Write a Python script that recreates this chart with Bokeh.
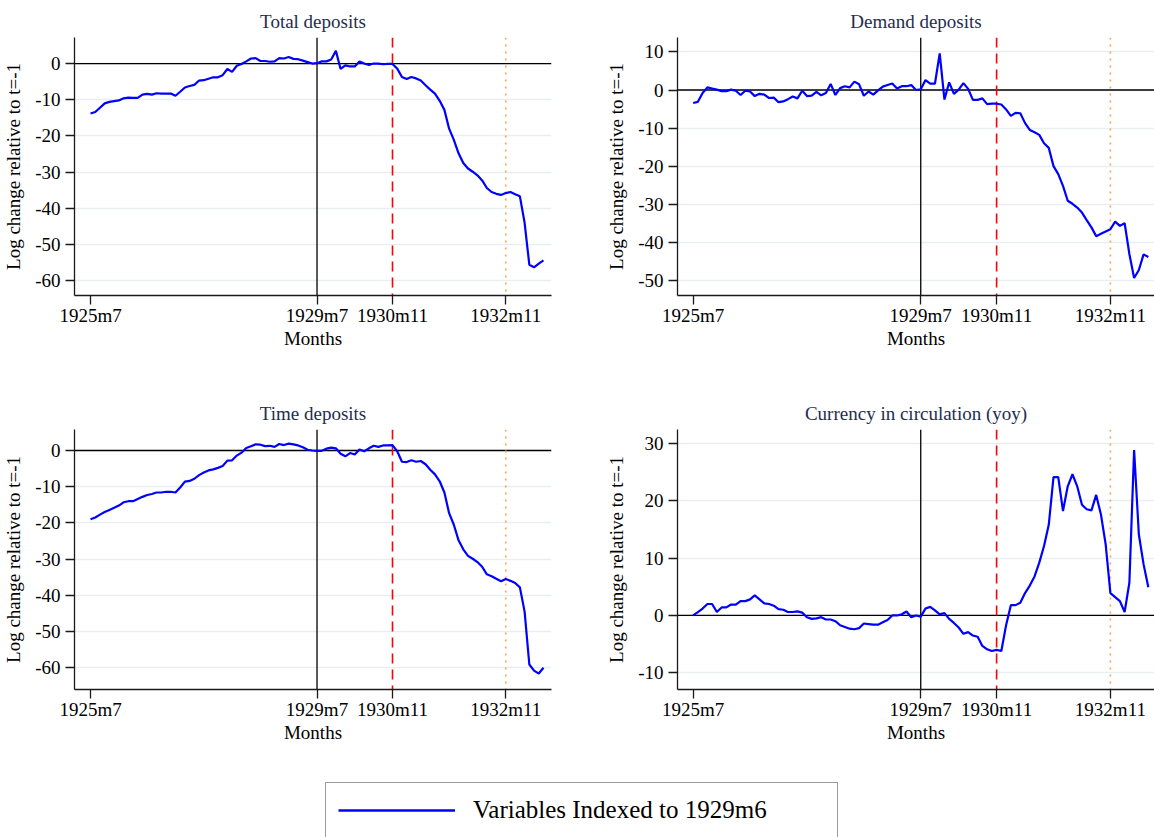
from bokeh.plotting import figure
from bokeh.layouts import column, row
from bokeh.models import FixedTicker, Span, Range1d, Legend, LegendItem
from bokeh.embed import file_html
from bokeh.resources import INLINE

# ---------------- data ----------------
start_year, start_month, n_months = 1925, 7, 97
months = [f"{start_year + (start_month - 1 + i) // 12}m{(start_month - 1 + i) % 12 + 1}" for i in range(n_months)]

tick_labels = ["1925m7", "1929m7", "1930m11", "1932m11"]
base_month = "1929m7"
crisis_month = "1930m11"
end_month = "1932m11"

total_deposits = [-13.8, -13.4, -12.2, -11.0, -10.6, -10.4, -10.2, -9.6, -9.4, -9.5, -9.5, -8.6, -8.4, -8.6, -8.2, -8.3,
                  -8.3, -8.3, -8.9, -7.8, -6.6, -6.2, -5.9, -4.7, -4.6, -4.2, -3.8, -3.8, -3.2, -1.5, -2.3, -0.6,
                  -0.1, 0.6, 1.4, 1.5, 0.7, 0.7, 0.5, 0.6, 1.5, 1.4, 1.8, 1.3, 1.2, 0.8, 0.4, 0.0, 0.1,
                  0.6, 0.6, 1.1, 3.5, -1.5, -0.5, -0.8, -0.8, 0.6, 0.0, -0.4, 0.0, 0.0, -0.2, -0.1, -0.1,
                  -1.4, -3.7, -4.3, -3.7, -4.1, -4.7, -6.0, -7.2, -8.3, -10.3, -12.8, -18.0, -21.1, -24.8, -27.5,
                  -29.0, -29.9, -30.9, -32.3, -34.4, -35.5, -36.0, -36.3, -35.8, -35.5, -36.1, -36.7, -44.0,
                  -55.6, -56.3, -55.3, -54.4]

demand_deposits = [-3.4, -3.1, -0.8, 0.7, 0.4, 0.1, -0.3, -0.3, 0.1, -0.2, -1.3, -0.2, -0.4, -1.6, -1.0, -1.2,
                   -2.1, -2.0, -3.2, -3.0, -2.4, -1.7, -2.2, -0.2, -1.6, -1.5, -0.5, -1.4, -0.8, 1.6, -1.3, 0.5,
                   1.0, 0.7, 2.2, 1.5, -1.5, -0.4, -1.2, -0.1, 0.9, 1.3, 1.7, 0.4, 1.0, 1.0, 1.3, 0.0, 0.2,
                   2.6, 1.7, 1.7, 9.6, -2.5, 2.0, -1.0, 0.1, 1.8, 0.3, -2.6, -2.6, -2.2, -3.7, -3.6, -3.6,
                   -3.8, -5.1, -6.8, -6.0, -6.1, -8.7, -10.5, -11.1, -11.8, -14.0, -15.2, -20.0, -22.1, -25.2,
                   -29.1, -29.9, -30.9, -32.2, -34.2, -36.1, -38.4, -37.8, -37.2, -36.6, -34.6, -35.7, -35.0,
                   -43.1, -49.4, -47.3, -43.2, -43.9]

time_deposits = [-19.0, -18.5, -17.7, -17.0, -16.4, -15.8, -15.2, -14.3, -14.0, -14.0, -13.4, -12.8, -12.3, -12.0,
                 -11.6, -11.6, -11.4, -11.4, -11.6, -10.2, -8.6, -8.4, -7.8, -6.8, -6.1, -5.5, -5.2, -4.8, -4.3,
                 -2.8, -2.7, -1.4, -0.6, 0.7, 1.2, 1.7, 1.6, 1.2, 1.3, 1.0, 1.8, 1.5, 1.9, 1.7, 1.4, 0.9, 0.2,
                 0.0, -0.1, -0.1, 0.5, 0.8, 0.6, -0.9, -1.6, -0.7, -1.1, 0.3, -0.2, 0.6, 1.3, 1.0, 1.4, 1.4, 1.5,
                 -0.2, -3.1, -3.2, -2.7, -3.1, -2.9, -3.8, -5.3, -6.6, -8.5, -11.6, -17.3, -20.5, -24.8, -27.3,
                 -29.1, -29.9, -30.8, -32.1, -34.2, -34.7, -35.4, -36.1, -35.5, -36.0, -36.6, -37.8, -44.5,
                 -59.1, -60.8, -61.6, -60.0]

currency = [0.0, 0.6, 1.2, 2.0, 2.0, 0.6, 1.4, 1.4, 1.9, 1.9, 2.5, 2.5, 2.8, 3.5, 2.8, 2.1, 2.0, 1.7, 1.1, 1.0,
            0.6, 0.6, 0.7, 0.5, -0.3, -0.6, -0.5, -0.3, -0.7, -0.7, -1.0, -1.7, -2.0, -2.3, -2.4, -2.2, -1.4,
            -1.5, -1.6, -1.6, -1.2, -0.8, 0.0, 0.0, 0.2, 0.7, -0.3, 0.0, -0.2,
            1.2, 1.5, 0.9, 0.2, 0.4, -0.6, -1.3, -2.1, -3.2, -2.9, -3.5, -3.7, -5.3, -5.9, -6.2, -6.0, -6.2,
            -1.7, 1.8, 1.8, 2.2, 3.9, 5.2, 6.8, 9.2, 12.1, 15.8, 24.1, 24.1, 18.2, 22.5, 24.6, 22.5, 19.3,
            18.5, 18.3, 21.0, 17.6, 12.4, 3.9, 3.2, 2.5, 0.6, 5.7, 28.8, 14.1, 8.9, 4.9]

titles = ["Total deposits", "Demand deposits", "Time deposits", "Currency in circulation (yoy)"]
y_ticks_total = [-60, -50, -40, -30, -20, -10, 0]
y_ticks_demand = [-50, -40, -30, -20, -10, 0, 10]
y_ticks_time = [-60, -50, -40, -30, -20, -10, 0]
y_ticks_currency = [-10, 0, 10, 20, 30]

legend_label = "Variables Indexed to 1929m6"
y_axis_label = "Log change relative to t=-1"
x_axis_label = "Months"

# ---------------- styling ----------------
FONT = "Liberation Serif"
FS = "19px"
TITLE_COLOR = "#1f2d4e"
LINE_BLUE = "#0000ff"


def make_panel(title, values, yticks, yrange, xrange, width, height, bl, br, bt, bb, title_offset):
    p = figure(width=width, height=height, output_backend="svg", toolbar_location=None,
               x_range=Range1d(*xrange), y_range=Range1d(*yrange),
               min_border_left=bl, min_border_right=br, min_border_top=bt, min_border_bottom=bb)
    p.outline_line_color = None
    p.background_fill_color = "white"
    p.border_fill_color = "white"

    p.title.text = title
    p.title.align = "center"
    p.title.text_font = FONT
    p.title.text_font_size = FS
    p.title.text_font_style = "normal"
    p.title.text_color = TITLE_COLOR
    p.title.offset = title_offset
    p.title.standoff = 12

    xs = list(range(len(values)))
    tick_pos = [months.index(t) for t in tick_labels]
    p.xaxis.ticker = FixedTicker(ticks=tick_pos)
    p.xaxis.major_label_overrides = {pos: lbl for pos, lbl in zip(tick_pos, tick_labels)}
    p.yaxis.ticker = FixedTicker(ticks=yticks)
    p.yaxis.major_label_overrides = {v: str(v) for v in yticks}

    for ax in (p.xaxis[0], p.yaxis[0]):
        ax.axis_line_color = "#1a1a1a"
        ax.axis_line_width = 1.3
        ax.major_tick_line_color = "#1a1a1a"
        ax.major_tick_line_width = 1.3
        ax.major_tick_out = 9
        ax.major_tick_in = 0
        ax.minor_tick_line_color = None
        ax.major_label_text_font = FONT
        ax.major_label_text_font_size = FS
        ax.major_label_text_color = "black"
        ax.axis_label_text_font = FONT
        ax.axis_label_text_font_size = FS
        ax.axis_label_text_font_style = "normal"
        ax.axis_label_text_color = "black"
    p.xaxis.axis_label = x_axis_label
    p.xaxis.axis_label_standoff = -1
    p.xaxis.major_label_standoff = 0
    p.yaxis.axis_label = y_axis_label
    p.yaxis.axis_label_standoff = 8
    p.yaxis.major_label_standoff = 5
    p.yaxis.major_label_orientation = "horizontal"

    p.xgrid.grid_line_color = None
    p.ygrid.grid_line_color = "#e8eff1"
    p.ygrid.grid_line_width = 1.6

    p.add_layout(Span(location=0, dimension="width", line_color="black", line_width=1.3, level="underlay"))
    p.add_layout(Span(location=months.index(base_month), dimension="height", line_color="black",
                      line_width=1.3, level="underlay"))
    p.add_layout(Span(location=months.index(crisis_month), dimension="height", line_color="#ff0000",
                      line_width=1.6, line_dash="10 6", level="underlay"))
    p.add_layout(Span(location=months.index(end_month), dimension="height", line_color="#ffa04a",
                      line_width=1.6, line_dash="2 5", level="underlay"))

    p.line(xs, values, line_color=LINE_BLUE, line_width=2.2)
    return p


xr_left = (-3.4, 97.7)
xr_right = (-3.3, 97.3)

p1 = make_panel(titles[0], total_deposits, y_ticks_total, (-64.1, 7.2), xr_left, 577, 392, 73, 26, 37, 97, 4)
p2 = make_panel(titles[1], demand_deposits, y_ticks_demand, (-54.0, 13.8), xr_right, 577, 392, 100, 0, 37, 97, -9)
p3 = make_panel(titles[2], time_deposits, y_ticks_time, (-66.0, 5.8), xr_left, 577, 390, 73, 26, 37, 93, 4)
p4 = make_panel(titles[3], currency, y_ticks_currency, (-12.9, 32.4), xr_right, 577, 390, 100, 0, 37, 93, -9)

# legend strip (the dummy renderer only supplies the legend's line sample; it lies outside the visible range)
leg = figure(width=1154, height=55, output_backend="svg", toolbar_location=None,
             x_axis_type=None, y_axis_type=None, x_range=Range1d(0, 1), y_range=Range1d(0, 1),
             min_border=0, min_border_left=0, min_border_right=0, min_border_top=0, min_border_bottom=0)
leg.outline_line_color = None
leg.xgrid.visible = False
leg.ygrid.visible = False
r = leg.line(x=[-3, -2], y=[-3, -3], line_color=LINE_BLUE, line_width=2.5)
legend = Legend(items=[LegendItem(label=legend_label, renderers=[r])], location=(325, -1),
                border_line_color="#333333", border_line_width=1.5,
                label_text_font=FONT, label_text_font_size="25px", label_text_color="black",
                glyph_width=117, glyph_height=30, label_height=30, label_width=352, label_standoff=18,
                padding=12, margin=0, spacing=0, background_fill_color="white", background_fill_alpha=1.0)
leg.add_layout(legend)

layout = column(row(p1, p2), row(p3, p4), leg)
open("out.html", "w").write(file_html(layout, INLINE))
